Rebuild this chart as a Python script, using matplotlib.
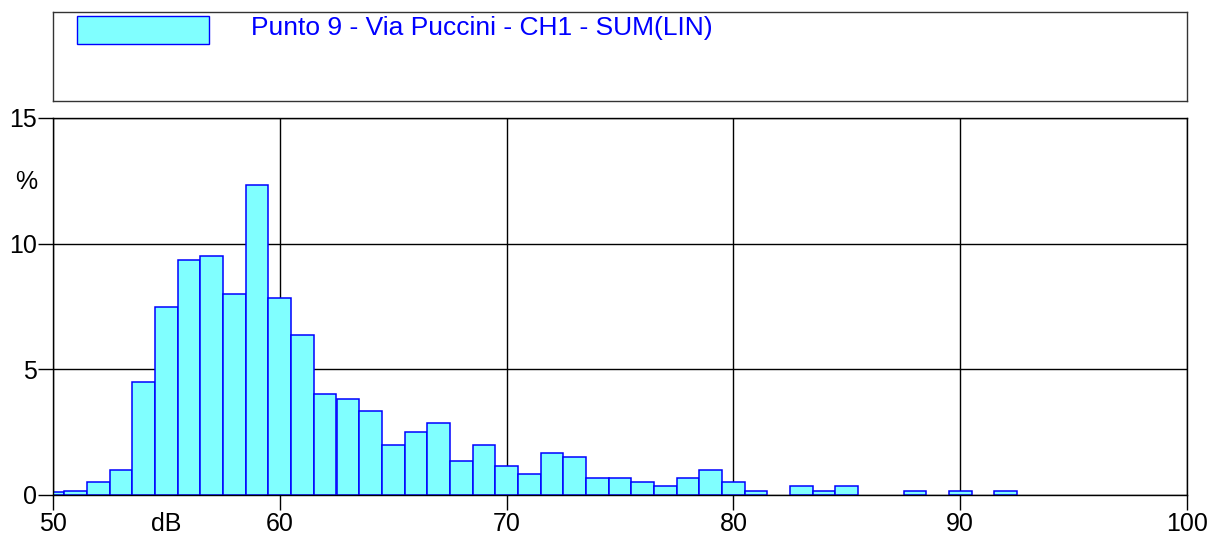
import numpy as np
import matplotlib
matplotlib.use("Agg")
import matplotlib.pyplot as plt
from matplotlib.patches import Rectangle

plt.rcParams["font.family"] = ["Liberation Sans", "DejaVu Sans"]

# level classes (dB, 1 dB wide, centred on the integer) and share of time (%)
levels = list(range(50, 100))
percent = [0.13, 0.15, 0.5, 1.0, 4.5, 7.5, 9.35, 9.5, 8.0, 12.35,
           7.85, 6.35, 4.0, 3.83, 3.33, 2.0, 2.5, 2.85, 1.34, 2.0,
           1.17, 0.84, 1.68, 1.51, 0.66, 0.66, 0.5, 0.34, 0.67, 1.0,
           0.52, 0.17, 0.0, 0.34, 0.17, 0.34, 0.0, 0.0, 0.17, 0.0,
           0.17, 0.0, 0.17, 0.0, 0.0, 0.0, 0.0, 0.0, 0.0, 0.0]
series_label = "Punto 9 - Via Puccini - CH1 - SUM(LIN)"
xticks = [50, 60, 70, 80, 90, 100]
yticks = [0, 5, 10, 15]

FACE = "#80ffff"
EDGE = "#0000ff"
FS = 18
TICKLEN = 10.8  # points (15 px)

fig = plt.figure(figsize=(12.12, 5.4), dpi=100)

# legend panel
axL = fig.add_axes([53 / 1212, 1 - 101 / 540, 1134 / 1212, 89 / 540])
axL.set_xlim(0, 1134)
axL.set_ylim(89, 0)
axL.set_xticks([])
axL.set_yticks([])
for s in axL.spines.values():
    s.set_color("#333333")
    s.set_linewidth(1.0)
axL.add_patch(Rectangle((24, 4), 132, 28, facecolor=FACE, edgecolor=EDGE, lw=1.0))
axL.text(198, 23.5, series_label, color=EDGE, fontsize=19, va="baseline", ha="left")

# histogram (empty classes are not drawn)
lv = np.array(levels)
pc = np.array(percent)
nz = pc > 0
ax = fig.add_axes([53 / 1212, 45 / 540, 1134 / 1212, 377 / 540])
ax.bar(lv[nz], pc[nz], width=1.0, align="center", color=FACE, edgecolor=EDGE,
       linewidth=1.1, zorder=2)
ax.set_xlim(50, 100)
ax.set_ylim(0, 15)
ax.set_xticks(xticks)
ax.set_yticks(yticks)
ax.set_axisbelow(True)
ax.grid(True, color="black", linewidth=1.0)
ax.tick_params(axis="both", direction="out", length=TICKLEN, width=1.0, labelsize=FS,
               colors="black")
ax.tick_params(axis="y", pad=0.7)
ax.tick_params(axis="x", pad=1.5)
for s in ax.spines.values():
    s.set_color("black")
    s.set_linewidth(1.0)
    s.set_zorder(3)

# axis unit labels placed inside the tick-label rows
ax.annotate("dB", xy=(55, 0), xycoords=("data", "axes fraction"),
            xytext=(0, -(TICKLEN + 1.5)), textcoords="offset points",
            fontsize=FS, ha="center", va="top")
ax.annotate("%", xy=(0, 12.45), xycoords=("axes fraction", "data"),
            xytext=(-(TICKLEN + 0.7), 0), textcoords="offset points",
            fontsize=FS, ha="right", va="center")

fig.savefig("out.png", dpi=100)
